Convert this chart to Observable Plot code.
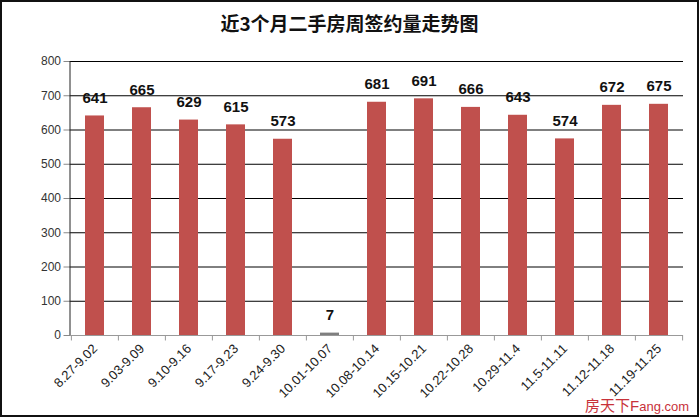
<!DOCTYPE html>
<html>
<head>
<meta charset="utf-8">
<script src="https://cdn.jsdelivr.net/npm/d3@7"></script>
<script src="https://cdn.jsdelivr.net/npm/@observablehq/plot@0.6"></script>
<style>
  html, body { margin: 0; padding: 0; background: #fff; }
  #wrap { position: relative; width: 699px; height: 417px; overflow: hidden; background: #fff; }
  #title { position: absolute; left: 0; top: 11px; width: 699px; text-align: center;
    font: bold 19px "Noto Sans CJK SC", sans-serif; color: #111; line-height: 24px; }
  #chart { position: absolute; left: 0; top: 40px; }
  #frame { position: absolute; left: 0; top: 0; width: 699px; height: 417px; box-sizing: border-box;
    border: 2px solid #111; pointer-events: none; }
  #mark { position: absolute; left: 585px; top: 396px; color: #c8323a; font: 15px "Noto Sans CJK SC", sans-serif; line-height: 18px; }
  #mark .en { font: 13px "Liberation Sans", Arial, sans-serif; }
  #mark .en b { font-size: 15px; font-weight: normal; }
</style>
</head>
<body>
<div id="wrap">
  <div id="title">近3个月二手房周签约量走势图</div>
  <div id="chart"></div>
  <div id="mark">房天下<span class="en"><b>F</b>ang.com</span></div>
  <div id="frame"></div>
</div>
<script>
const categories = ["8.27-9.02","9.03-9.09","9.10-9.16","9.17-9.23","9.24-9.30","10.01-10.07","10.08-10.14","10.15-10.21","10.22-10.28","10.29-11.4","11.5-11.11","11.12-11.18","11.19-11.25"];
const values = [641, 665, 629, 615, 573, 7, 681, 691, 666, 643, 574, 672, 675];
const yTicks = [0, 100, 200, 300, 400, 500, 600, 700, 800];

const data = categories.map((c, i) => ({week: c, count: values[i]}));

const W = 699, ML = 69.5, MR = 16;
const step = (W - ML - MR) / categories.length;

const chart = Plot.plot({
  width: W,
  height: 377,
  marginTop: 21,
  marginBottom: 82,
  marginLeft: ML,
  marginRight: MR,
  style: {fontFamily: "'Liberation Sans', Arial, sans-serif", background: "transparent", color: "#222"},
  x: {domain: categories, paddingInner: 0.6, paddingOuter: 0.3, axis: null},
  y: {domain: [0, 800], axis: null},
  marks: [
    Plot.gridY(yTicks.filter(d => d > 0), {stroke: "#000", strokeOpacity: 1, strokeWidth: 1}),
    Plot.axisY({ticks: yTicks, tickSize: 6, tickPadding: 3, label: null, fontSize: 12, stroke: "#888", fill: "#333"}),
    Plot.frame({anchor: "left", stroke: "#222"}),
    Plot.barY(data, {x: "week", y: "count", fill: d => d.count < 50 ? "#7f7f7f" : "#c0504d"}),
    Plot.ruleY([0], {stroke: "#999"}),
    Plot.ruleX(categories, {x: d => d, dx: -step / 2, y1: 0, y2: -16, stroke: "#999"}),
    Plot.ruleX([categories[categories.length - 1]], {x: d => d, dx: step / 2, y1: 0, y2: -16, stroke: "#999"}),
    Plot.text(data, {x: "week", y: "count", text: d => String(d.count), dy: -18, fontSize: 15, fontWeight: "bold", fill: "#111"}),
    Plot.text(categories, {x: d => d, frameAnchor: "bottom", text: d => d, rotate: -45, textAnchor: "end", dx: 3, dy: 14, fontSize: 13, fill: "#222"})
  ]
});
document.getElementById("chart").appendChild(chart);
</script>
</body>
</html>
